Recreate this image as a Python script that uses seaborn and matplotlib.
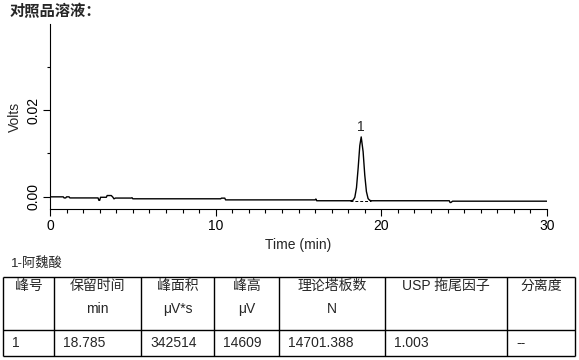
import pandas as pd
import seaborn as sns
import matplotlib.pyplot as plt
from matplotlib.ticker import MultipleLocator, FormatStrFormatter

# chromatogram trace (time in min, signal in V)
time_min = [0.0, 0.8, 0.85, 0.95, 1.0, 1.15, 1.2, 2.9, 2.95, 3.0, 3.05, 3.4,
            3.45, 3.7, 3.8, 3.86, 3.95, 4.9, 4.95, 5.0, 10.3, 10.35, 10.55,
            10.6, 16.0, 16.05, 16.1, 17.9, 18.1, 18.2, 18.3, 18.4, 18.5, 18.6,
            18.7, 18.785, 18.9, 19.0, 19.1, 19.2, 19.3, 19.4, 24.1, 24.15,
            24.2, 24.3, 30.0]
volts = [0.0, 0.0, -0.00025, -0.00025, 0.0, 0.0, -0.00025, -0.00025, -0.0008,
         -0.0008, -0.0001, -0.0001, 0.0003, 0.0003, -0.0001, -0.00046,
         -0.00028, -0.00028, -0.0002, -0.00045, -0.00045, -0.0003, -0.0003,
         -0.0007, -0.0007, -0.0005, -0.0009, -0.0009, -0.0009, -0.00088,
         -0.00075, -0.0001, 0.0021, 0.0066, 0.0118, 0.0138, 0.0104, 0.0050,
         0.0012, -0.0004, -0.0008, -0.0009, -0.0009, -0.0013, -0.0013,
         -0.001, -0.001]

# integration of peak 1
peak_names = ['1']
peak_rt = [18.785]
peak_start = [18.1]
peak_end = [19.4]
peak_base = [-0.0009]

# results table
header_top = ['峰号', '保留时间', '峰面积', '峰高', '理论塔板数', 'USP 拖尾因子', '分离度']
header_unit = ['', 'min', 'μV*s', 'μV', 'N', '', '']
row_values = ['1', '18.785', '342514', '14609', '14701.388', '1.003', '--']

sns.set_theme(style='ticks')
plt.rcParams['font.family'] = ['Liberation Sans', 'Noto Sans CJK SC', 'DejaVu Sans']
plt.rcParams['font.size'] = 10

W, H = 579, 360
fig = plt.figure(figsize=(W / 100, H / 100), dpi=100)

# overlay in pixel coordinates for title and table
pax = fig.add_axes([0, 0, 1, 1], facecolor='none')
pax.set_xlim(0, W)
pax.set_ylim(H, 0)
pax.axis('off')

ax = fig.add_axes([50 / W, 1 - 209 / H, 497 / W, 185 / H])
df = pd.DataFrame({'time': time_min, 'volts': volts})
sns.lineplot(data=df, x='time', y='volts', color='black', lw=1.0,
             estimator=None, sort=False, ax=ax)

for name, rt, s, e, b in zip(peak_names, peak_rt, peak_start, peak_end, peak_base):
    ax.plot([s, e], [b, b], color='black', lw=0.7, ls=(0, (3, 2)))
    top = df.loc[(df['time'] - rt).abs().idxmin(), 'volts']
    ax.annotate(name, (rt, top), xytext=(0, 2), textcoords='offset points',
                ha='center', va='bottom', fontsize=10)

ax.set_xlim(0, 30)
ax.set_ylim(-0.0028, 0.0398)
ax.xaxis.set_major_locator(MultipleLocator(10))
ax.xaxis.set_minor_locator(MultipleLocator(1))
ax.yaxis.set_major_locator(MultipleLocator(0.02))
ax.yaxis.set_minor_locator(MultipleLocator(0.01))
ax.yaxis.set_major_formatter(FormatStrFormatter('%.2f'))
ax.tick_params(axis='both', which='major', length=5, width=0.8, pad=2,
               labelsize=10, color='black', labelcolor='black')
ax.tick_params(axis='x', which='minor', length=3, width=0.8, color='black')
ax.tick_params(axis='y', which='minor', length=2.2, width=0.8, color='black')
ax.tick_params(axis='y', labelrotation=90)
for lbl in ax.get_yticklabels():
    lbl.set_va('center')
sns.despine(ax=ax)
for sp in ['left', 'bottom']:
    ax.spines[sp].set_linewidth(0.8)
    ax.spines[sp].set_color('black')
ax.set_xlabel('Time (min)', fontsize=10, labelpad=4)
ax.set_ylabel('Volts', fontsize=10, labelpad=3)

pax.text(10, 11, '对照品溶液：', fontsize=11, fontweight='bold', va='center', ha='left')
pax.text(11, 263, '1-阿魏酸', fontsize=9.5, va='center', ha='left')

col_edges = [3, 54, 141, 214, 279, 385, 507, 575]
row_edges = [277, 330, 356]
pax.hlines(row_edges, col_edges[0], col_edges[-1], color='black', lw=1)
pax.vlines(col_edges, row_edges[0], row_edges[-1], color='black', lw=1)
for i in range(len(header_top)):
    cx = (col_edges[i] + col_edges[i + 1]) / 2
    pax.text(cx, 286, header_top[i], ha='center', va='center', fontsize=10)
    pax.text(cx, 309, header_unit[i], ha='center', va='center', fontsize=10)
    pax.text(col_edges[i] + 9, 343, row_values[i], ha='left', va='center', fontsize=10)

fig.savefig('out.png', dpi=100)
